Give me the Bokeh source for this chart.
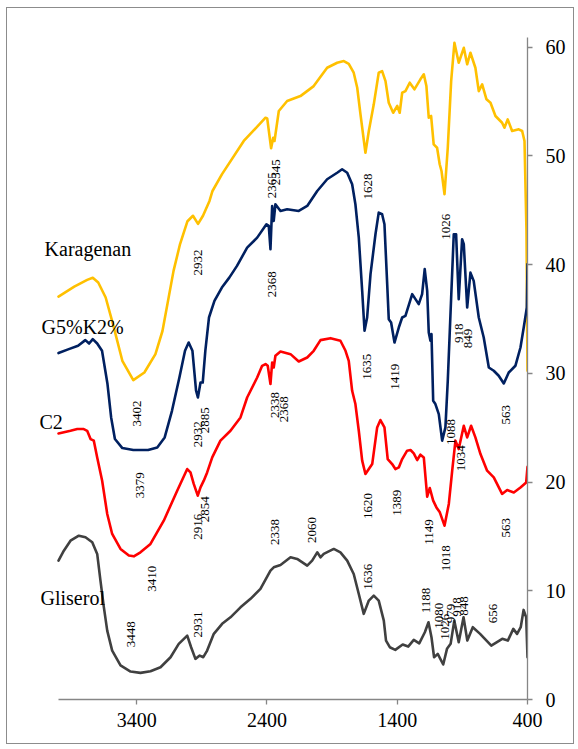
import math
from bokeh.plotting import figure
from bokeh.models import Range1d, LinearAxis, FixedTicker
from bokeh.embed import file_html
from bokeh.resources import INLINE
from bokeh.core.properties import value

# ---------------- data (wavenumber cm-1, transmittance %) ----------------
kar_x = [4000, 3879, 3780, 3737, 3695, 3638, 3582, 3510, 3426, 3341, 3256, 3202, 3117, 3067, 3010, 2968, 2929, 2891, 2841, 2818,
         2746, 2578, 2411, 2398, 2368, 2352, 2342, 2309, 2245, 2143, 2041, 1938, 1861, 1810, 1772, 1734, 1707, 1682, 1644, 1618,
         1580, 1542, 1516, 1490, 1465, 1431, 1400, 1381, 1362, 1337, 1304, 1268, 1222, 1196, 1176, 1158, 1140, 1120, 1094, 1074,
         1060, 1037, 1012, 986, 961, 928, 889, 863, 838, 800, 774, 748, 715, 684, 646, 595, 577, 552, 518, 467,
         441, 423, 408, 400]
kar_y = [37.07, 37.98, 38.6, 38.8, 38.36, 36.98, 34.53, 31.16, 29.38, 30.08, 31.77, 33.9, 39.43, 41.9, 44.0, 44.5, 43.75, 44.5, 45.86, 46.78,
         48.31, 51.38, 53.52, 53.46, 50.71, 51.68, 51.38, 54.14, 55.06, 55.51, 56.43, 58.12, 58.58, 58.73, 58.48, 57.66, 56.28, 53.83, 50.30, 52.3,
         54.75, 57.66, 57.81, 56.89, 54.9, 53.98, 54.6, 53.98, 55.82, 55.97, 56.74, 56.13, 57.05, 57.51, 56.43, 53.52, 53.68, 51.07, 50.76, 49.24,
         48.62, 46.48, 50.76, 56.89, 60.41, 58.58, 59.95, 58.43, 59.5, 58.12, 55.97, 56.59, 55.21, 54.9, 53.68, 53.06, 52.6, 53.37, 52.3, 52.45,
         52.3, 51.38, 43.11, 30.24]

g5k2_x = [4000, 3921, 3850, 3794, 3765, 3737, 3703, 3666, 3624, 3596, 3567, 3510, 3426, 3312, 3242, 3185, 3129, 3072, 3029, 3001,
          2972, 2944, 2930, 2910, 2893, 2873, 2845, 2803, 2746, 2689, 2630, 2552, 2475, 2404, 2386, 2373, 2360, 2348, 2335, 2296,
          2245, 2156, 2091, 2014, 1938, 1861, 1823, 1784, 1746, 1721, 1695, 1669, 1651, 1631, 1605, 1567, 1542, 1516, 1498, 1477,
          1465, 1447, 1421, 1388, 1362, 1337, 1285, 1260, 1235, 1209, 1189, 1170, 1158, 1145, 1137, 1124, 1107, 1081, 1055, 1030,
          1012, 986, 966, 948, 928, 902, 889, 863, 838, 813, 774, 736, 697, 659, 621, 582, 544, 493, 454, 429,
          405, 400]
g5k2_y = [31.87, 32.23, 32.54, 33.06, 32.75, 33.15, 32.75, 32.08, 29.02, 25.95, 23.96, 23.13, 22.95, 22.95, 23.19, 24.11, 26.56, 29.62, 32.08, 32.84,
          32.08, 28.4, 27.78, 29.16, 29.16, 32.08, 35.14, 36.67, 37.9, 38.81, 39.89, 41.57, 42.49, 43.72, 43.57, 41.42, 45.4, 44.03, 45.56, 44.94,
          45.1, 44.94, 45.4, 46.78, 47.86, 48.46, 48.78, 48.46, 47.4, 45.56, 42.49, 37.59, 33.92, 35.14, 39.13, 42.8, 44.79, 44.64, 43.72, 38.21,
          34.99, 34.68, 32.84, 34.22, 35.14, 35.29, 37.29, 36.83, 36.37, 37.29, 39.59, 37.59, 33.76, 33.0, 33.61, 27.48, 27.18, 26.26, 23.81, 25.03,
          29.32, 36.98, 42.8, 42.8, 36.83, 42.34, 41.88, 36.06, 39.27, 38.51, 35.14, 33.3, 30.54, 30.24, 29.78, 29.07, 30.08, 30.7, 32.38, 34.22,
          36.06, 40.05]

c2_x = [4000, 3908, 3856, 3806, 3780, 3754, 3729, 3703, 3665, 3626, 3588, 3524, 3460, 3422, 3371, 3294, 3192, 3089, 3012, 2987,
        2962, 2931, 2910, 2885, 2859, 2820, 2757, 2680, 2603, 2552, 2475, 2437, 2411, 2394, 2373, 2360, 2348, 2335, 2296, 2219,
        2156, 2091, 2041, 1989, 1912, 1836, 1797, 1772, 1746, 1721, 1695, 1669, 1644, 1618, 1592, 1554, 1529, 1498, 1473, 1439,
        1414, 1388, 1362, 1324, 1298, 1273, 1247, 1222, 1196, 1170, 1150, 1124, 1099, 1073, 1037, 1004, 978, 953, 928, 889,
        863, 833, 800, 761, 710, 659, 595, 556, 505, 454, 410, 400]
c2_y = [24.48, 24.72, 24.88, 24.88, 24.72, 23.96, 23.81, 22.27, 20.13, 17.07, 15.23, 13.85, 13.24, 13.17, 13.54, 14.31, 16.45, 19.21, 21.2, 20.89,
        19.83, 18.75, 19.51, 20.13, 20.89, 22.27, 23.81, 24.72, 25.95, 27.78, 29.62, 30.7, 30.86, 30.7, 29.02, 31.0, 30.54, 31.62, 32.01, 31.77,
        31.09, 31.46, 32.08, 33.06, 33.24, 33.0, 32.08, 31.16, 28.4, 27.18, 24.72, 21.97, 20.74, 21.2, 21.66, 25.03, 25.71, 25.03, 22.12, 21.66,
        21.2, 21.35, 22.12, 22.89, 22.95, 22.64, 22.03, 22.52, 22.27, 18.66, 19.46, 18.29, 17.67, 17.22, 15.99, 17.99, 21.05, 23.81, 23.04, 25.18,
        24.11, 25.18, 24.11, 22.58, 21.05, 20.43, 18.91, 19.27, 19.05, 19.51, 19.97, 21.4]

gli_x = [4000, 3959, 3908, 3844, 3793, 3741, 3703, 3678, 3652, 3626, 3588, 3524, 3447, 3371, 3294, 3217, 3140, 3077, 3012, 2982,
         2949, 2916, 2889, 2859, 2808, 2744, 2680, 2603, 2526, 2450, 2373, 2348, 2296, 2219, 2168, 2091, 2053, 2014, 1989, 1964,
         1887, 1836, 1784, 1734, 1695, 1657, 1618, 1580, 1542, 1503, 1486, 1457, 1415, 1358, 1316, 1273, 1231, 1188, 1160, 1137,
         1117, 1089, 1047, 1018, 990, 962, 928, 891, 862, 820, 764, 678, 594, 551, 509, 480, 452, 430, 410, 400]
gli_y = [12.78, 13.69, 14.61, 15.07, 14.92, 14.46, 13.39, 10.94, 8.5, 6.34, 4.5, 3.13, 2.57, 2.45, 2.6, 2.97, 3.89, 5.12, 5.88, 4.81,
         3.74, 4.04, 3.89, 4.5, 6.04, 6.96, 7.56, 8.48, 9.26, 10.17, 11.86, 12.16, 12.38, 13.08, 12.93, 12.32, 12.78, 13.54, 13.08, 13.39,
         13.85, 13.54, 12.78, 11.55, 9.71, 7.88, 9.1, 9.56, 9.1, 7.26, 5.42, 4.81, 4.57, 5.06, 4.87, 5.49, 5.17, 6.19, 7.1, 5.73,
         3.89, 4.2, 3.22, 4.66, 5.12, 7.26, 5.27, 7.56, 5.42, 6.65, 6.04, 4.96, 5.58, 5.42, 6.5, 6.04, 6.65, 8.24, 7.56, 3.89]

# peak annotations (text, x, y)
kar_peaks = ["3402", "2932", "2365", "2345", "1628", "1026"]
kar_peak_x = [3401, 2929, 2365, 2327, 1621, 1022]
kar_peak_y = [26.3, 40.2, 47.3, 48.5, 47.2, 43.5]

g5k2_peaks = ["2368", "3379", "2932", "2885", "1635", "1419", "918", "849", "1088", "563"]
g5k2_peak_x = [2358, 3371, 2929, 2876, 1632, 1417, 922, 857, 991, 562]
g5k2_peak_y = [38.2, 19.7, 24.4, 25.7, 30.6, 29.7, 33.7, 33.2, 24.6, 26.2]

c2_peaks = ["3410", "2916", "2854", "2338", "2368", "1620", "1389", "1149", "1018", "1034", "563"]
c2_peak_x = [3279, 2933, 2876, 2335, 2266, 1628, 1398, 1156, 1022, 907, 562]
c2_peak_y = [11.1, 15.9, 17.5, 27.1, 26.7, 17.8, 18.1, 15.4, 13.0, 22.2, 15.8]

gli_peaks = ["3448", "2931", "2338", "2060", "1636", "1188", "1080", "1026", "979", "918", "848", "656"]
gli_peak_x = [3440, 2929, 2335, 2058, 1628, 1179, 1076, 1030, 991, 942, 884, 665]
gli_peak_y = [6.0, 6.9, 15.4, 15.6, 11.3, 9.1, 7.7, 6.7, 7.9, 8.5, 8.6, 7.9]

series_names = ["Karagenan", "G5%K2%", "C2", "Gliserol"]
name_x = [4107, 4130, 4146, 4138]
name_y = [41.45, 34.28, 25.55, 9.38]

x_ticks = [3400, 2400, 1400, 400]
y_ticks = [0, 10, 20, 30, 40, 50, 60]

# ---------------- figure ----------------
SERIF = "Liberation Serif"
AXIS_GREY = "#868686"

p = figure(width=568, height=737, output_backend="svg", toolbar_location=None,
           x_range=Range1d(4215, 400), y_range=Range1d(0, 60.9),
           x_axis_location=None, y_axis_location=None,
           min_border_left=23, min_border_top=29, min_border_right=48, min_border_bottom=46,
           background_fill_color="white", border_fill_color="white",
           styles={"margin-left": "6px", "margin-top": "7px", "border": "1px solid #8c8c8c"})
p.outline_line_color = None
p.xgrid.grid_line_color = None
p.ygrid.grid_line_color = None

xaxis = LinearAxis(ticker=FixedTicker(ticks=x_ticks), bounds=(400, 4000))
yaxis = LinearAxis(ticker=FixedTicker(ticks=y_ticks), bounds=(0, 60.9))
for ax in (xaxis, yaxis):
    ax.axis_line_color = AXIS_GREY
    ax.axis_line_width = 1.3
    ax.major_tick_line_color = AXIS_GREY
    ax.major_tick_line_width = 1.3
    ax.major_tick_out = 5
    ax.major_tick_in = 0
    ax.minor_tick_line_color = None
    ax.major_label_text_font = SERIF
    ax.major_label_text_font_size = "20px"
    ax.major_label_text_color = "black"
xaxis.major_label_standoff = 8
yaxis.major_label_standoff = 13
p.add_layout(xaxis, "below")
p.add_layout(yaxis, "right")

series = [
    (kar_x, kar_y, "#FFC000"),
    (g5k2_x, g5k2_y, "#002060"),
    (c2_x, c2_y, "#FF0000"),
    (gli_x, gli_y, "#404040"),
]
for xs, ys, col in series:
    p.line(xs, ys, line_color=col, line_width=2.6, line_join="round", line_cap="round")

for labels, xs, ys in [(kar_peaks, kar_peak_x, kar_peak_y),
                       (g5k2_peaks, g5k2_peak_x, g5k2_peak_y),
                       (c2_peaks, c2_peak_x, c2_peak_y),
                       (gli_peaks, gli_peak_x, gli_peak_y)]:
    p.text(x=xs, y=ys, text=labels, angle=math.pi / 2,
           text_align="center", text_baseline="middle",
           text_font=value(SERIF), text_font_size="13px", text_color="black")

p.text(x=name_x, y=name_y, text=series_names, text_align="left", text_baseline="middle",
       text_font=value(SERIF), text_font_size="20px", text_color="black")

open("out.html", "w").write(file_html(p, INLINE))
